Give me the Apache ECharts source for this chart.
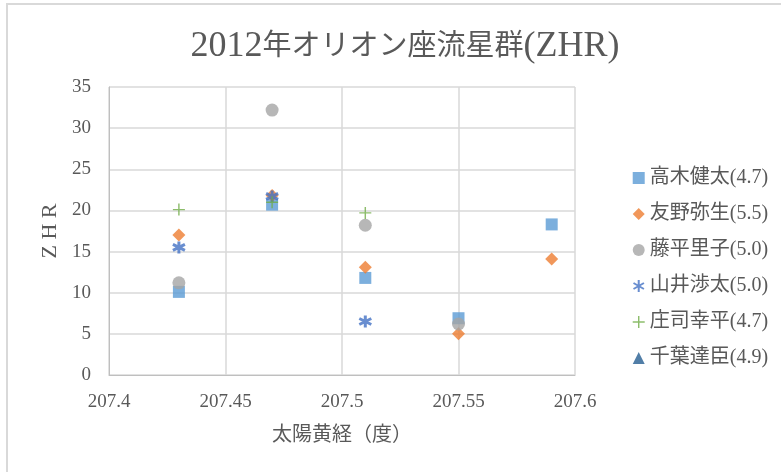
<!DOCTYPE html>
<html>
<head>
<meta charset="utf-8">
<script src="https://cdn.jsdelivr.net/npm/echarts@6/dist/echarts.min.js"></script>
<style>
  html, body { margin: 0; padding: 0; background: #fff; }
  #chart-container { width: 781px; height: 472px; }
</style>
</head>
<body>
<div id="chart-container"></div>
<script>
// データ: [太陽黄経, ZHR]
const takagi = [[207.43, 10.1], [207.47, 20.7], [207.51, 11.8], [207.55, 6.9], [207.59, 18.3]];
const tomono = [[207.43, 17.0], [207.47, 21.8], [207.51, 13.1], [207.55, 5.0], [207.59, 14.1]];
const fujihira = [[207.43, 11.2], [207.47, 32.2], [207.51, 18.2], [207.55, 6.2]];
const yamai = [[207.43, 15.5], [207.47, 21.7], [207.51, 6.5]];
const shoji = [[207.43, 20.1], [207.47, 21.0], [207.51, 19.7]];
const chiba = [];

const seriesNames = ['高木健太(4.7)', '友野弥生(5.5)', '藤平里子(5.0)', '山井渉太(5.0)', '庄司幸平(4.7)', '千葉達臣(4.9)'];
const xTicks = [207.4, 207.45, 207.5, 207.55, 207.6];
const yTicks = [0, 5, 10, 15, 20, 25, 30, 35];

const fontFamily = '"Liberation Serif", "Noto Sans CJK JP", serif';
const textColor = '#595959';

// 山井のマーカー(アスタリスク風)
const starPath = 'path://M0,-10L0,10M-8.7,-5L8.7,5M-8.7,5L8.7,-5';
const plusPath = 'path://M-1.2,-10L1.2,-10L1.2,-1.2L10,-1.2L10,1.2L1.2,1.2L1.2,10L-1.2,10L-1.2,1.2L-10,1.2L-10,-1.2L-1.2,-1.2Z';

function initChart() {
    const chartDom = document.getElementById('chart-container');
    const myChart = echarts.init(chartDom);

    const option = {
        animation: false,
        textStyle: { fontFamily: fontFamily },
        graphic: [{
            type: 'rect',
            shape: { x: 7, y: 4, width: 900, height: 600 },
            style: { fill: 'none', stroke: '#d9d9d9', lineWidth: 2 },
            silent: true
        }],
        title: {
            text: '{l|2012}年オリオン座流星群{l|(ZHR)}',
            left: 400,
            textAlign: 'center',
            top: 24,
            textStyle: {
                fontFamily: fontFamily, fontSize: 29, fontWeight: 'normal', color: textColor,
                rich: {
                    l: { fontFamily: fontFamily, fontSize: 36, color: textColor }
                }
            }
        },
        legend: {
            orient: 'vertical',
            left: 626,
            top: 163,
            itemGap: 16,
            itemWidth: 12,
            itemHeight: 12,
            textStyle: { fontFamily: fontFamily, fontSize: 20, lineHeight: 20, color: textColor },
            data: seriesNames
        },
        grid: { left: 109, right: 206, top: 87, bottom: 97 },
        xAxis: {
            type: 'value',
            min: 207.4,
            max: 207.6,
            interval: 0.05,
            name: '太陽黄経（度）',
            nameLocation: 'middle',
            nameGap: 51,
            nameTextStyle: { fontFamily: fontFamily, fontSize: 20, color: textColor },
            axisLine: { show: true, lineStyle: { color: '#bfbfbf' } },
            axisTick: { show: false },
            splitLine: { show: true, lineStyle: { color: '#d9d9d9', width: 1.5 } },
            axisLabel: {
                fontFamily: fontFamily, fontSize: 19, color: textColor, margin: 18,
                formatter: v => {
                    const t = xTicks.find(x => Math.abs(x - v) < 1e-6);
                    return t === undefined ? '' : String(t);
                }
            }
        },
        yAxis: {
            type: 'value',
            min: 0,
            max: 35,
            interval: 5,
            name: 'Z H R',
            nameLocation: 'middle',
            nameGap: 47,
            nameRotate: 90,
            nameTextStyle: { fontFamily: fontFamily, fontSize: 22, color: textColor },
            axisLine: { show: true, lineStyle: { color: '#bfbfbf' } },
            axisTick: { show: false },
            splitLine: { show: true, lineStyle: { color: '#d9d9d9', width: 1.5 } },
            axisLabel: {
                fontFamily: fontFamily, fontSize: 19, color: textColor, margin: 18,
                formatter: v => (yTicks.includes(v) ? String(v) : '')
            }
        },
        series: [
            { name: seriesNames[0], type: 'scatter', data: takagi, symbol: 'rect', symbolSize: 12,
              itemStyle: { color: '#5b9bd5' } },
            { name: seriesNames[1], type: 'scatter', data: tomono, symbol: 'diamond', symbolSize: 13,
              itemStyle: { color: '#ed7d31' } },
            { name: seriesNames[2], type: 'scatter', data: fujihira, symbol: 'circle', symbolSize: 13,
              itemStyle: { color: '#a5a5a5' } },
            { name: seriesNames[3], type: 'scatter', data: yamai, symbol: starPath, symbolSize: 12,
              itemStyle: { color: 'none', borderColor: '#4472c4', borderWidth: 3 } },
            { name: seriesNames[4], type: 'scatter', data: shoji, symbol: plusPath, symbolSize: 12,
              itemStyle: { color: '#70ad47' } },
            { name: seriesNames[5], type: 'scatter', data: chiba, symbol: 'triangle', symbolSize: 12,
              itemStyle: { color: '#255e91' } }
        ]
    };

    myChart.setOption(option);
}

initChart();
</script>
</body>
</html>
